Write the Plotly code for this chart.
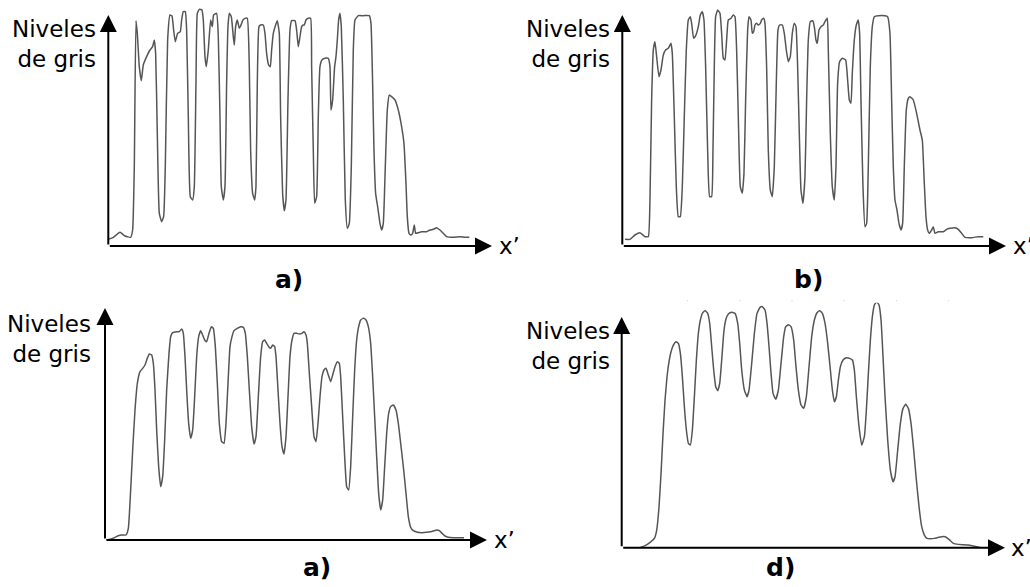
import plotly.graph_objects as go

W, H = 1030, 587

# ---------------- data (position along x', grey level) ----------------
# panel a) top-left
pa_x = [0,15,35,50,67,73,78,83,87,93,99,105,115,125,133,138,142,147,153,160,166,171,178,185,191,196,201,208,216,220,225,231,235,240,246,253,258,263,267,273,281,285,290,294,300,307,312,316,325,330,335,339,345,350,355,359,363,369,375,378,382,387,393,397,404,410,417,423,427,433,439,443,447,452,457,465,470,475,481,486,490,495,502,507,513,517,523,528,533,539,545,550,560,565,570,575,580,585,588,593,600,607,610,615,619,625,630,635,641,650,660,665,668,673,679,683,687,691,695,699,705,711,717,723,729,735,740,750,765,783,788,793,797,802,808,815,820,825,831,837,843,850,860,870,880,887,893,897,902,908,913,918,922,930,940,955,965,975,985,995,1005,1015,1035,1055,1070,1083]
pa_y = [20,26,41,30,26,48,238,676,638,538,496,543,568,588,598,618,578,338,98,73,88,238,618,693,690,648,613,638,643,678,703,703,648,388,148,138,178,488,698,710,708,678,568,538,588,678,658,693,698,628,388,178,138,178,488,658,698,688,628,603,658,678,653,660,678,683,683,538,288,158,138,178,488,658,663,663,638,578,543,538,588,638,663,676,638,388,158,106,138,438,648,676,676,648,598,628,658,663,663,678,683,683,538,288,128,148,388,538,558,563,563,538,408,438,538,568,618,678,698,658,438,138,53,68,238,588,678,691,691,691,668,488,288,158,118,68,48,68,238,408,453,448,438,408,358,308,188,88,38,33,38,63,38,40,43,43,48,50,55,48,38,28,26,28,26,26]

# panel b) top-right
pb_x = [8,23,38,53,68,78,83,88,93,98,103,110,116,123,130,138,146,150,156,162,168,174,180,186,192,198,204,208,214,221,228,234,240,245,250,256,262,268,272,276,280,286,293,298,303,308,313,318,326,333,338,343,348,354,360,365,370,376,380,386,390,394,398,403,408,414,418,424,428,433,438,444,450,456,462,467,472,480,486,492,498,504,510,516,521,526,531,536,542,548,553,558,564,571,576,581,585,590,596,603,608,615,618,624,630,636,641,646,652,660,670,676,681,686,690,696,702,708,712,716,722,728,733,738,744,750,756,768,788,796,803,808,813,818,824,830,836,841,846,852,858,863,873,883,893,900,906,911,916,921,928,933,938,948,963,973,983,998,1008,1018,1028,1048,1068,1083]
pb_y = [20,20,33,40,28,28,138,438,588,613,568,508,528,573,588,593,608,578,388,178,88,88,178,388,588,678,688,668,623,633,658,693,703,678,538,288,148,148,288,538,688,708,698,638,563,558,618,678,683,693,688,588,388,178,158,218,438,648,688,678,638,643,663,668,663,668,678,683,668,538,288,168,148,238,488,648,663,663,638,588,553,568,638,668,658,538,338,168,128,208,438,618,673,676,658,618,608,648,658,663,673,683,588,338,178,138,238,488,553,563,558,498,438,428,518,618,663,678,638,438,178,58,68,238,538,658,688,691,691,688,638,438,238,138,108,68,48,68,238,408,443,448,438,398,348,318,188,88,48,38,48,58,38,43,43,50,53,55,50,38,26,25,28,28]

# panel a) bottom-left
pc_x = [3,15,30,40,50,63,70,77,83,90,97,105,113,120,127,133,140,145,150,155,161,167,173,179,185,192,197,203,215,223,230,235,240,245,251,257,263,269,275,281,287,293,299,305,312,319,325,331,337,343,350,357,363,369,375,381,387,397,407,415,421,427,433,440,447,453,460,467,473,479,485,491,497,503,509,513,519,525,531,537,543,549,555,561,567,575,583,591,597,603,607,613,620,627,633,639,645,651,657,663,670,677,683,690,697,703,707,713,719,725,731,737,743,749,755,761,767,775,783,790,797,803,809,815,821,827,833,839,845,851,857,865,873,880,887,895,903,910,917,925,935,950,965,977,985,995,1003,1011,1020,1030,1045,1060,1077]
pc_y = [0,2,8,13,15,15,35,150,270,390,470,505,515,525,545,558,555,530,450,330,220,160,190,300,450,560,610,622,625,625,633,620,550,450,350,305,330,430,550,610,628,615,600,595,620,640,635,580,470,350,295,290,350,470,580,610,628,635,640,638,620,550,450,340,288,310,430,550,595,600,590,580,575,585,580,550,450,350,280,258,310,430,550,600,620,620,618,620,625,615,590,500,400,310,295,350,430,490,510,515,495,475,495,520,535,530,490,370,250,160,150,220,370,510,600,640,660,665,660,640,590,490,370,250,140,90,120,220,320,380,400,405,390,350,290,220,140,70,38,28,24,22,23,25,27,30,28,20,12,8,7,7,7]

# panel d) bottom-right
pd_x = [55,70,85,98,105,112,118,124,130,136,142,148,155,163,170,176,182,188,194,200,206,212,218,224,230,236,242,250,258,264,270,276,282,288,294,300,306,312,320,330,340,348,354,360,368,376,382,390,398,406,415,422,430,436,442,448,454,462,470,478,486,492,500,508,516,522,530,538,546,554,562,570,578,586,594,602,610,618,626,632,638,644,650,656,664,674,684,692,698,704,712,720,728,734,740,746,752,758,765,772,778,784,790,798,806,814,820,828,836,844,852,860,868,876,884,892,900,908,916,926,938,950,960,970,978,986,995,1010,1025,1040,1055,1075]
pd_y = [0,6,16,28,53,123,223,343,443,513,558,588,608,618,613,583,513,423,353,313,308,353,453,563,643,683,703,711,703,673,603,533,483,471,493,563,643,683,701,706,703,673,613,533,473,453,473,553,643,703,721,723,713,673,603,523,463,445,473,553,633,663,669,663,623,553,473,428,418,453,543,633,683,705,711,703,673,613,533,473,438,453,503,543,563,570,568,563,533,453,363,308,333,413,523,623,693,728,738,728,683,573,453,323,233,198,213,293,373,418,430,418,373,293,203,123,63,38,28,27,28,31,33,33,28,21,13,10,9,8,5,1]

series_x = [pa_x, pb_x, pc_x, pd_x]
series_y = [pa_y, pb_y, pc_y, pd_y]
panel_labels = ["a)", "b)", "a)", "d)"]
y_title = "Niveles<br>de gris"
x_title = "x\u2019"

# ---------------- layout geometry (page pixels) ----------------
geo = [
    dict(ox=108.3, oy=246.0, xend=492, ytip=15, lx=289, ly=280, tx=98, ty=14, xt=497),
    dict(ox=622.3, oy=246.0, xend=1006, ytip=15, lx=808, ly=280, tx=612, ty=14, xt=1011),
    dict(ox=105.0, oy=540.0, xend=487, ytip=308, lx=317, ly=567, tx=93, ty=309, xt=492),
    dict(ox=621.7, oy=547.7, xend=1005, ytip=317, lx=780, ly=567, tx=612, ty=316, xt=1009),
]

FONT = "DejaVu Sans, Verdana, sans-serif"
fig = go.Figure()
layout = dict(width=W, height=H, margin=dict(l=0, r=0, t=0, b=0),
              paper_bgcolor="white", plot_bgcolor="rgba(0,0,0,0)",
              showlegend=False, font=dict(family=FONT, color="black"))
annotations = []
shapes = []

SPAN_W, SPAN_H = 400, 245  # domain size in px; data units are 3 per px

for i, (xs, ys, g, lab) in enumerate(zip(series_x, series_y, geo, panel_labels)):
    n = "" if i == 0 else str(i + 1)
    fig.add_trace(go.Scatter(x=xs, y=ys, mode="lines",
                             line=dict(color="#555555", width=1.5, shape="spline", smoothing=0.4),
                             xaxis="x" + n, yaxis="y" + n, hoverinfo="skip"))
    layout["xaxis" + n] = dict(domain=[g["ox"] / W, (g["ox"] + SPAN_W) / W],
                               range=[0, SPAN_W * 3], visible=False, fixedrange=True,
                               anchor="y" + n)
    layout["yaxis" + n] = dict(domain=[1 - g["oy"] / H, 1 - (g["oy"] - SPAN_H) / H],
                               range=[0, SPAN_H * 3], visible=False, fixedrange=True,
                               anchor="x" + n)
    # x' axis arrow
    annotations.append(dict(xref="paper", yref="paper", x=g["xend"] / W, y=1 - g["oy"] / H,
                            ax=-(g["xend"] - g["ox"]), ay=0, axref="pixel", ayref="pixel",
                            text="", showarrow=True, arrowhead=2, arrowsize=1.7,
                            arrowwidth=2, arrowcolor="black", standoff=0, startstandoff=0))
    # grey-level axis arrow
    annotations.append(dict(xref="paper", yref="paper", x=g["ox"] / W, y=1 - g["ytip"] / H,
                            ax=0, ay=(g["oy"] - g["ytip"]), axref="pixel", ayref="pixel",
                            text="", showarrow=True, arrowhead=2, arrowsize=1.7,
                            arrowwidth=2, arrowcolor="black", standoff=0, startstandoff=0))
    # axis titles
    annotations.append(dict(xref="paper", yref="paper", x=g["tx"] / W, y=1 - g["ty"] / H,
                            xanchor="right", yanchor="top", align="right", showarrow=False,
                            text=y_title, font=dict(size=23, family=FONT, color="black")))
    annotations.append(dict(xref="paper", yref="paper", x=g["xt"] / W, y=1 - g["oy"] / H,
                            xanchor="left", yanchor="middle", showarrow=False,
                            text=x_title, font=dict(size=23, family=FONT, color="black")))
    # panel label
    annotations.append(dict(xref="paper", yref="paper", x=g["lx"] / W, y=1 - g["ly"] / H,
                            xanchor="center", yanchor="middle", showarrow=False,
                            text="<b>" + lab + "</b>", font=dict(size=25, family=FONT, color="black")))

# faint dotted artefact line above panel d
shapes.append(dict(type="line", xref="paper", yref="paper", x0=687 / W, x1=949 / W,
                   y0=1 - 300.7 / H, y1=1 - 300.7 / H,
                   line=dict(color="#d9d9d9", width=1.2, dash="1.2px,51px")))

layout["annotations"] = annotations
layout["shapes"] = shapes
fig.update_layout(**layout)
fig.write_html("out.html", config={"displayModeBar": False},
               post_script="document.body.style.margin='0';document.body.style.overflow='hidden';")
